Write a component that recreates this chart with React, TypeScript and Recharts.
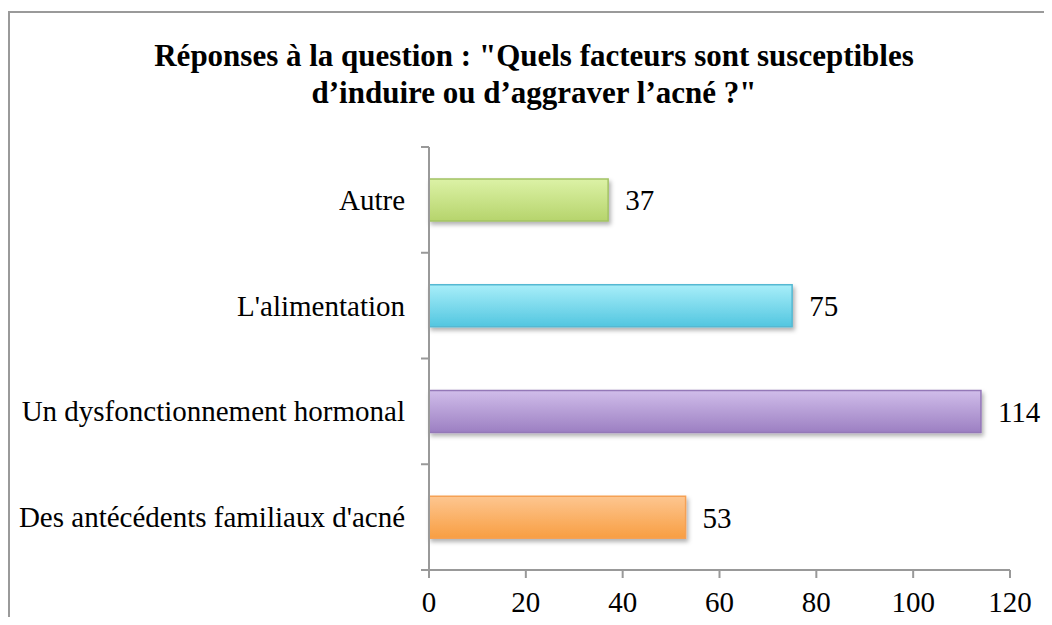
import React from "react";
import {
  BarChart,
  Bar,
  XAxis,
  YAxis,
  Cell,
  LabelList,
} from "recharts";

const categories = [
  "Autre",
  "L'alimentation",
  "Un dysfonctionnement hormonal",
  "Des antécédents familiaux d'acné",
];
const counts = [37, 75, 114, 53];
const xTicks = [0, 20, 40, 60, 80, 100, 120];

// top colour, bottom colour, border
const barColors = [
  ["#dcf2a6", "#b6d46c", "#a3c264"],
  ["#a8eef9", "#52c6e0", "#55b8d2"],
  ["#d0bdea", "#9c7fc2", "#9478b8"],
  ["#fdc690", "#f89e42", "#f5a154"],
];

const chartData = categories.map((name, i) => ({ name, value: counts[i] }));

const FONT = "'Liberation Serif', 'DejaVu Serif', serif";
const LABEL_GAP = 24;
const TICK_LEN = 8;

// category label plus Excel-style tick marks on the band boundaries
const CategoryTick = (props: any) => {
  const { x, y, payload, height, index, visibleTicksCount } = props;
  const band = (height || 423) / (visibleTicksCount || 4);
  const axisX = x + LABEL_GAP;
  const top = y - band / 2;
  const bottom = y + band / 2;
  return (
    <g>
      <text
        x={x}
        y={y}
        textAnchor="end"
        dominantBaseline="central"
        fill="#000"
        fontSize={29}
        fontFamily={FONT}
      >
        {payload.value}
      </text>
      <line x1={axisX - TICK_LEN} x2={axisX} y1={top} y2={top} stroke="#999" strokeWidth={2} />
      {index === visibleTicksCount - 1 && (
        <line x1={axisX - TICK_LEN} x2={axisX} y1={bottom} y2={bottom} stroke="#999" strokeWidth={2} />
      )}
    </g>
  );
};

const App: React.FC = () => {
  return (
    <div
      style={{
        position: "relative",
        width: 1052,
        height: 625,
        margin: -8,
        overflow: "hidden",
        background: "#fff",
        fontFamily: FONT,
      }}
    >
      {/* chart border, cut off at right and bottom like the source */}
      <div
        style={{
          position: "absolute",
          left: 8,
          top: 11,
          width: 1100,
          height: 700,
          border: "2px solid #9a9a9a",
          boxSizing: "border-box",
        }}
      />
      <div
        style={{
          position: "absolute",
          left: 0,
          width: 1068,
          top: 37,
          textAlign: "center",
          fontWeight: "bold",
          fontSize: 31,
          lineHeight: "37px",
          color: "#000",
        }}
      >
        Réponses à la question : "Quels facteurs sont susceptibles
        <br />
        d’induire ou d’aggraver l’acné ?"
      </div>
      <div style={{ position: "absolute", left: 0, top: 0 }}>
        <BarChart
          width={1052}
          height={625}
          data={chartData}
          layout="vertical"
          margin={{ top: 147, right: 42, left: 0, bottom: 0 }}
        >
          <defs>
            {barColors.map((c, i) => (
              <linearGradient key={i} id={`grad${i}`} x1="0" y1="0" x2="0" y2="1">
                <stop offset="0%" stopColor={c[0]} />
                <stop offset="100%" stopColor={c[1]} />
              </linearGradient>
            ))}
            <filter id="shadow" x="-5%" y="-20%" width="110%" height="160%">
              <feDropShadow dx="2" dy="3" stdDeviation="2" floodColor="#000" floodOpacity="0.3" />
            </filter>
          </defs>
          <XAxis
            type="number"
            domain={[0, 120]}
            ticks={xTicks}
            interval={0}
            height={55}
            stroke="#999"
            strokeWidth={2}
            tickSize={TICK_LEN}
            tickMargin={13}
            tick={{ fill: "#000", fontSize: 29, fontFamily: FONT }}
          />
          <YAxis
            type="category"
            dataKey="name"
            width={429}
            stroke="#999"
            strokeWidth={2}
            tickLine={false}
            tickSize={0}
            tickMargin={LABEL_GAP}
            interval={0}
            tick={<CategoryTick />}
          />
          <Bar
            dataKey="value"
            barSize={42}
            isAnimationActive={false}
            filter="url(#shadow)"
          >
            {chartData.map((_, i) => (
              <Cell key={i} fill={`url(#grad${i})`} stroke={barColors[i][2]} strokeWidth={1.5} />
            ))}
            <LabelList
              dataKey="value"
              position="right"
              offset={17}
              fill="#000"
              fontSize={29}
              fontFamily={FONT}
            />
          </Bar>
        </BarChart>
      </div>
    </div>
  );
};

export default App;
